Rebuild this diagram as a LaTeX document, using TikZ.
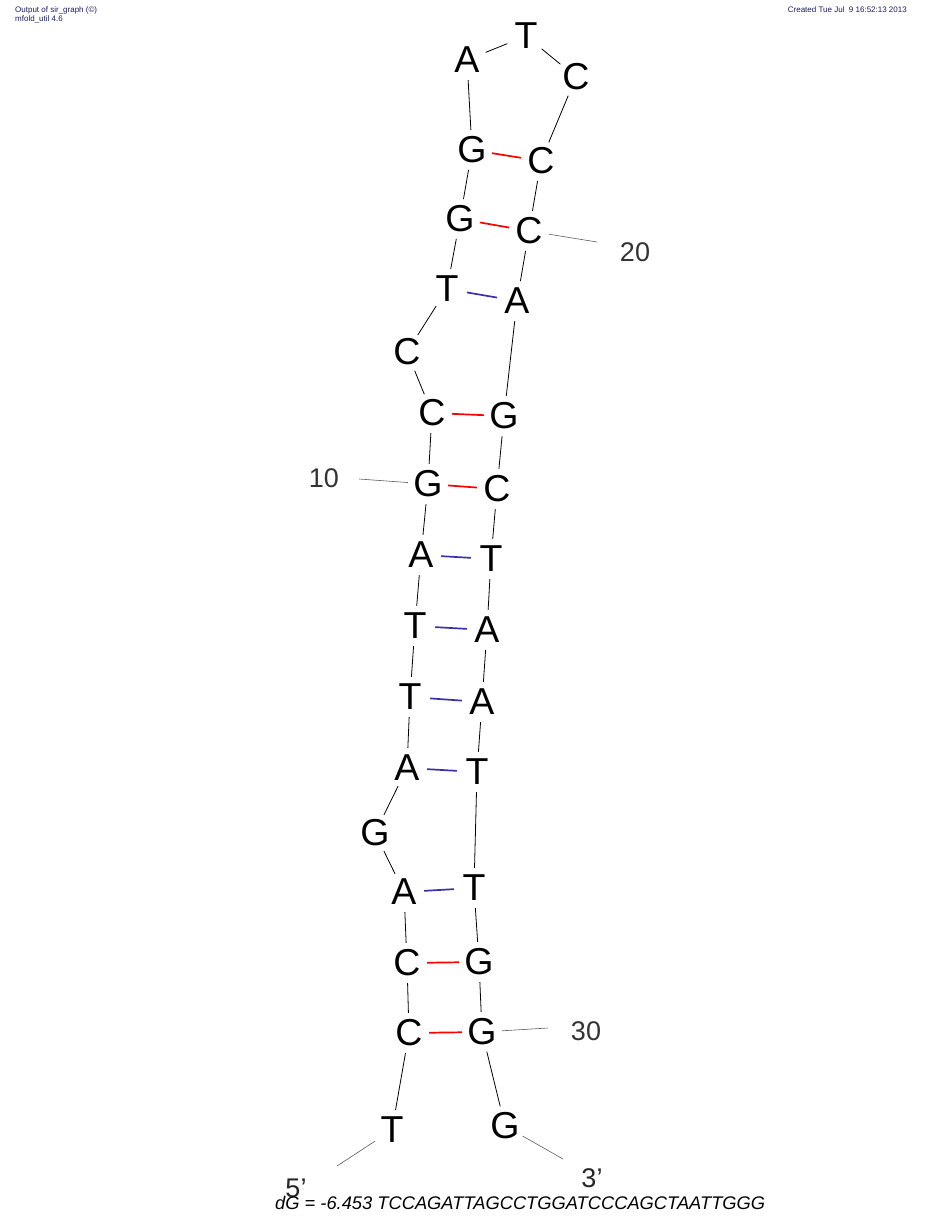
\documentclass[tikz,border=0pt]{standalone}
\usepackage{fontspec}
\setmainfont{Liberation Sans}
\definecolor{hdr}{HTML}{1C1C5C}
\definecolor{atblue}{HTML}{3A30A8}
\definecolor{gcred}{HTML}{FF0000}
\definecolor{numgray}{HTML}{333333}
\begin{document}
\begin{tikzpicture}[x=1pt,y=-1pt,
  base/.style={circle,inner sep=0pt,minimum size=40pt,font=\fontsize{37.5}{40}\selectfont},
  bb/.style={line width=0.8pt,black},
  gcpair/.style={line width=1.7pt,gcred},
  atpair/.style={line width=1.7pt,atblue},
  tickline/.style={line width=0.6pt,numgray!80},
  num/.style={inner sep=0pt,text=numgray,font=\fontsize{27}{30}\selectfont},
  hdrtext/.style={inner sep=0pt,text=hdr,font=\fontsize{8}{9}\selectfont}]
\useasboundingbox (0,0) rectangle (936,1224);
% header
\node[hdrtext,anchor=base west] (h1) at (15,12) {Output of sir\_graph (©)};
\node[hdrtext,anchor=base west] (h2) at (15,21) {mfold\_util 4.6};
\node[hdrtext,anchor=base east] (h3) at (907,12) {Created Tue Jul\ \ 9 16:52:13 2013};
% bases
\node[base] (b1) at (392,1130) {T};
\node[base] (b2) at (409,1033) {C};
\node[base] (b3) at (407,963) {C};
\node[base] (b4) at (404,892) {A};
\node[base] (b5) at (375,833) {G};
\node[base] (b6) at (407,768) {A};
\node[base] (b7) at (410,697) {T};
\node[base] (b8) at (415,626) {T};
\node[base] (b9) at (421,555) {A};
\node[base] (b10) at (428,484) {G};
\node[base] (b11) at (432,413) {C};
\node[base] (b12) at (407,352) {C};
\node[base] (b13) at (447,289) {T};
\node[base] (b14) at (460,219) {G};
\node[base] (b15) at (472,150) {G};
\node[base] (b16) at (467,60) {A};
\node[base] (b17) at (526,36) {T};
\node[base] (b18) at (576,77) {C};
\node[base] (b19) at (541,161) {C};
\node[base] (b20) at (529,231) {C};
\node[base] (b21) at (517,301) {A};
\node[base] (b22) at (504,416) {G};
\node[base] (b23) at (497,489) {C};
\node[base] (b24) at (491,559) {T};
\node[base] (b25) at (487,630) {A};
\node[base] (b26) at (482,702) {A};
\node[base] (b27) at (477,772) {T};
\node[base] (b28) at (474,888) {T};
\node[base] (b29) at (479,962) {G};
\node[base] (b30) at (482,1032) {G};
\node[base] (b31) at (505,1126) {G};
% backbone
\foreach \i/\j in {1/2,2/3,3/4,4/5,5/6,6/7,7/8,8/9,9/10,10/11,11/12,12/13,13/14,14/15,15/16,16/17,17/18,18/19,19/20,20/21,21/22,22/23,23/24,24/25,25/26,26/27,27/28,28/29,29/30,30/31}
  \draw[bb] (b\i) -- (b\j);
% pairs
\draw[gcpair] (b2) -- (b30);
\draw[gcpair] (b3) -- (b29);
\draw[atpair] (b4) -- (b28);
\draw[atpair] (b6) -- (b27);
\draw[atpair] (b7) -- (b26);
\draw[atpair] (b8) -- (b25);
\draw[atpair] (b9) -- (b24);
\draw[gcpair] (b10) -- (b23);
\draw[gcpair] (b11) -- (b22);
\draw[atpair] (b13) -- (b21);
\draw[gcpair] (b14) -- (b20);
\draw[gcpair] (b15) -- (b19);
% numbering ticks
\coordinate (t10) at (359,479);
\coordinate (t20) at (597,242);
\coordinate (t30) at (548,1028);
\coordinate (t5) at (337,1166);
\coordinate (t3) at (563,1159);
\draw[tickline] (b10) -- (t10);
\draw[tickline] (b20) -- (t20);
\draw[tickline] (b30) -- (t30);
\draw[tickline] (b1) -- (t5);
\draw[tickline] (b31) -- (t3);
\node[num] (n10) at (324,478) {10};
\node[num] (n20) at (635,252) {20};
\node[num] (n30) at (586,1031) {30};
\node[num,text=black!85] (n5) at (296,1188) {5’};
\node[num,text=black!85] (n3) at (592,1178) {3’};
% energy line
\node[inner sep=0pt,anchor=base west,font=\fontsize{18.3}{20}\selectfont\itshape] (dg) at (275,1209) {dG = -6.453 TCCAGATTAGCCTGGATCCCAGCTAATTGGG};
\end{tikzpicture}
\end{document}
